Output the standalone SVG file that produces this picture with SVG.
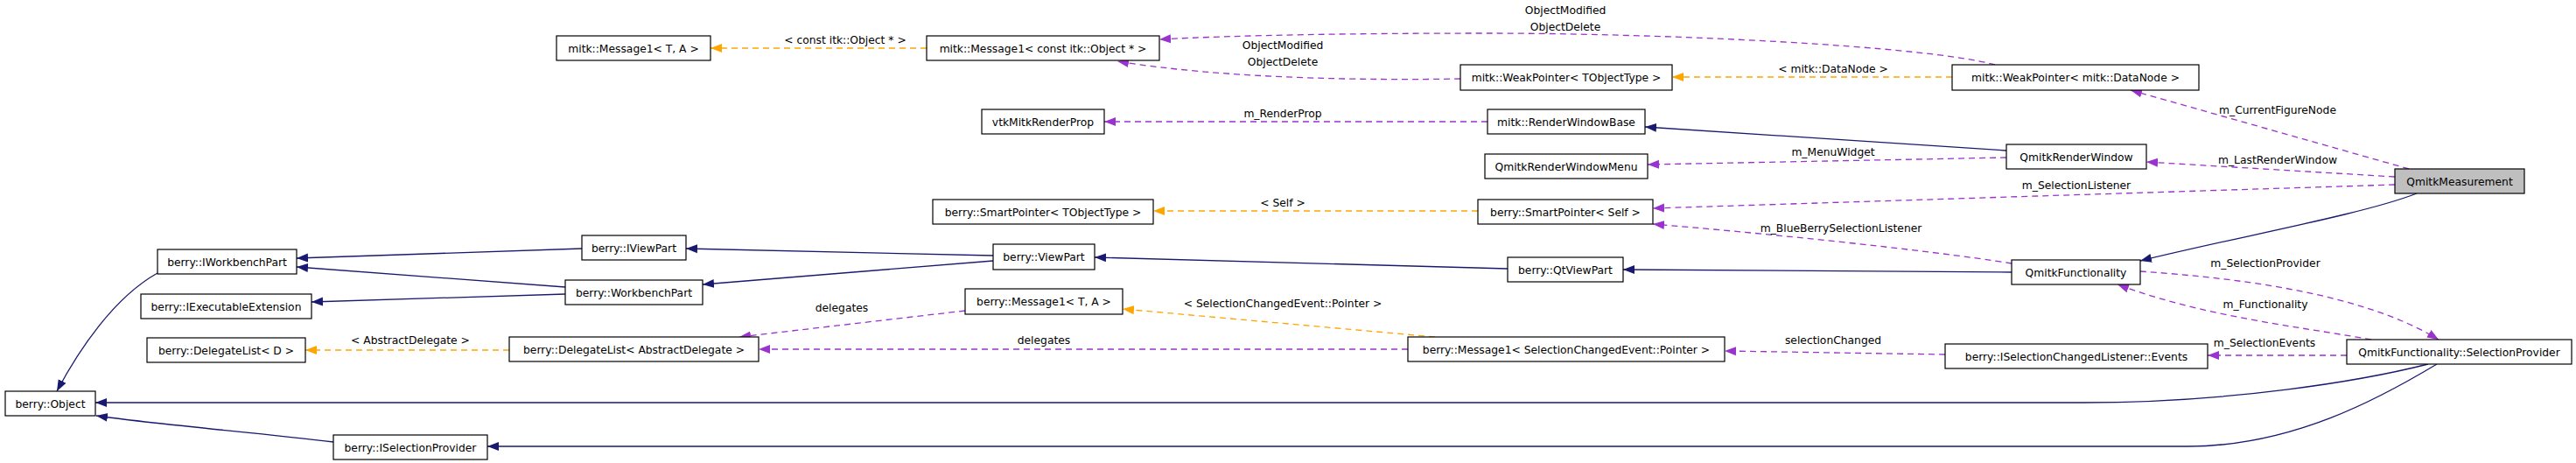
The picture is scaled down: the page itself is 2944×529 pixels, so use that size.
<svg xmlns="http://www.w3.org/2000/svg" width="2944" height="529" viewBox="0 0 2944 529">
<style>
.n rect{fill:#fff;stroke:#000;stroke-width:1.2}
.n text,.l{font-family:"DejaVu Sans",sans-serif;font-size:12.3px;fill:#000;text-anchor:middle}
.i{fill:none;stroke:#191970;stroke-width:1.3;marker-end:url(#ai)}
.u{fill:none;stroke:#9a32cd;stroke-width:1.3;stroke-dasharray:7,5;marker-end:url(#au)}
.t{fill:none;stroke:#ffa500;stroke-width:1.3;stroke-dasharray:7,5;marker-end:url(#at)}
</style>
<defs>
<marker id="ai" markerUnits="userSpaceOnUse" markerWidth="14" markerHeight="12" refX="13" refY="6" orient="auto"><path d="M0,1 L13,6 L0,11 z" fill="#191970"/></marker>
<marker id="au" markerUnits="userSpaceOnUse" markerWidth="14" markerHeight="12" refX="13" refY="6" orient="auto"><path d="M0,1 L13,6 L0,11 z" fill="#9a32cd"/></marker>
<marker id="at" markerUnits="userSpaceOnUse" markerWidth="14" markerHeight="12" refX="13" refY="6" orient="auto"><path d="M0,1 L13,6 L0,11 z" fill="#ffa500"/></marker>
</defs>
<rect width="2944" height="529" fill="#fff"/>
<g id="edges">
<path class="t" d="M1059,55 L812,55"/>
<path class="u" d="M1669,90 C1560,92 1400,90 1277,70"/>
<path class="u" d="M2280,74 C2200,52 1900,38 1700,38 C1550,38 1420,40 1325,45"/>
<path class="t" d="M2231,88 L1911,88"/>
<path class="u" d="M1700,139 L1262,139"/>
<path class="i" d="M2293,172 L1880,145"/>
<path class="u" d="M2293,180 L1883,188"/>
<path class="t" d="M1689,241 L1318,241"/>
<path class="u" d="M2753,193 L2435,103"/>
<path class="u" d="M2737,202 L2453,185"/>
<path class="u" d="M2737,211 L1889,238"/>
<path class="i" d="M2762,221 C2700,245 2560,270 2446,298"/>
<path class="u" d="M2299,301 C2200,285 2000,265 1889,256"/>
<path class="i" d="M2299,311 L1855,308"/>
<path class="i" d="M1723,307 L1251,294"/>
<path class="i" d="M1135,292 L784,284"/>
<path class="i" d="M1135,298 L803,325"/>
<path class="i" d="M665,284 L339,295"/>
<path class="i" d="M646,328 L339,305"/>
<path class="i" d="M646,336 L356,345"/>
<path class="i" d="M180,312 C130,340 90,400 65,447"/>
<path class="u" d="M1103,355 L845,385"/>
<path class="u" d="M1609,399 L867,399"/>
<path class="t" d="M1640,385 L1283,353"/>
<path class="t" d="M582,400 L349,400"/>
<path class="u" d="M2223,405 L1971,401"/>
<path class="u" d="M2682,406 L2523,406"/>
<path class="u" d="M2710,388 C2620,372 2520,362 2420,325"/>
<path class="u" d="M2446,310 C2560,318 2700,335 2787,388"/>
<path class="i" d="M2775,416 C2700,435 2550,460 2380,460 L109,460"/>
<path class="i" d="M2785,416 C2720,455 2620,510 2500,510 L557,510"/>
<path class="i" d="M381,505 C300,495 180,485 110,475"/>
<text class="l" x="966" y="50">&lt; const itk::Object * &gt;</text>
<text class="l" x="1466" y="56">ObjectModified</text>
<text class="l" x="1466" y="75">ObjectDelete</text>
<text class="l" x="1789" y="16">ObjectModified</text>
<text class="l" x="1789" y="35">ObjectDelete</text>
<text class="l" x="2095" y="83">&lt; mitk::DataNode &gt;</text>
<text class="l" x="1466" y="134">m_RenderProp</text>
<text class="l" x="2095" y="178">m_MenuWidget</text>
<text class="l" x="1466" y="236">&lt; Self &gt;</text>
<text class="l" x="2603" y="130">m_CurrentFigureNode</text>
<text class="l" x="2603" y="187">m_LastRenderWindow</text>
<text class="l" x="2373" y="216">m_SelectionListener</text>
<text class="l" x="2104" y="265">m_BlueBerrySelectionListener</text>
<text class="l" x="2589" y="305">m_SelectionProvider</text>
<text class="l" x="2589" y="352">m_Functionality</text>
<text class="l" x="2588" y="396">m_SelectionEvents</text>
<text class="l" x="2095" y="393">selectionChanged</text>
<text class="l" x="1466" y="351">&lt; SelectionChangedEvent::Pointer &gt;</text>
<text class="l" x="1193" y="393">delegates</text>
<text class="l" x="962" y="356">delegates</text>
<text class="l" x="469" y="393">&lt; AbstractDelegate &gt;</text>
</g>
<g id="n1" class="n"><rect x="636" y="41" width="176" height="28"/><text x="724" y="59.5">mitk::Message1&lt; T, A &gt;</text></g>
<g id="n2" class="n"><rect x="1059" y="41" width="266" height="28"/><text x="1192" y="59.5">mitk::Message1&lt; const itk::Object * &gt;</text></g>
<g id="n3" class="n"><rect x="1669" y="74" width="242" height="29"/><text x="1790" y="93">mitk::WeakPointer&lt; TObjectType &gt;</text></g>
<g id="n4" class="n"><rect x="1122" y="125" width="140" height="28"/><text x="1192" y="143.5">vtkMitkRenderProp</text></g>
<g id="n5" class="n"><rect x="1700" y="125" width="180" height="28"/><text x="1790" y="143.5">mitk::RenderWindowBase</text></g>
<g id="n6" class="n"><rect x="1697" y="176" width="186" height="28"/><text x="1790" y="194.5">QmitkRenderWindowMenu</text></g>
<g id="n7" class="n"><rect x="1066" y="228" width="252" height="28"/><text x="1192" y="246.5">berry::SmartPointer&lt; TObjectType &gt;</text></g>
<g id="n8" class="n"><rect x="1689" y="228" width="200" height="28"/><text x="1789" y="246.5">berry::SmartPointer&lt; Self &gt;</text></g>
<g id="n9" class="n"><rect x="2231" y="74" width="282" height="29"/><text x="2372" y="93">mitk::WeakPointer&lt; mitk::DataNode &gt;</text></g>
<g id="n10" class="n"><rect x="2293" y="165" width="160" height="28"/><text x="2373" y="183.5">QmitkRenderWindow</text></g>
<g id="n11" class="n"><rect x="2737" y="193" width="148" height="28" style="fill:#bfbfbf"/><text x="2811" y="211.5">QmitkMeasurement</text></g>
<g id="n12" class="n"><rect x="2299" y="297" width="147" height="28"/><text x="2372.5" y="315.5">QmitkFunctionality</text></g>
<g id="n13" class="n"><rect x="2682" y="388" width="257" height="28"/><text x="2810.5" y="406.5">QmitkFunctionality::SelectionProvider</text></g>
<g id="n14" class="n"><rect x="2223" y="393" width="300" height="28"/><text x="2373" y="411.5">berry::ISelectionChangedListener::Events</text></g>
<g id="n15" class="n"><rect x="1609" y="385" width="362" height="28"/><text x="1790" y="403.5">berry::Message1&lt; SelectionChangedEvent::Pointer &gt;</text></g>
<g id="n16" class="n"><rect x="1723" y="294" width="132" height="28"/><text x="1789" y="312.5">berry::QtViewPart</text></g>
<g id="n17" class="n"><rect x="1135" y="279" width="116" height="29"/><text x="1193" y="298">berry::ViewPart</text></g>
<g id="n18" class="n"><rect x="1103" y="330" width="180" height="29"/><text x="1193" y="349">berry::Message1&lt; T, A &gt;</text></g>
<g id="n19" class="n"><rect x="665" y="269" width="119" height="28"/><text x="724.5" y="287.5">berry::IViewPart</text></g>
<g id="n20" class="n"><rect x="646" y="320" width="157" height="28"/><text x="724.5" y="338.5">berry::WorkbenchPart</text></g>
<g id="n21" class="n"><rect x="582" y="385" width="285" height="28"/><text x="724.5" y="403.5">berry::DelegateList&lt; AbstractDelegate &gt;</text></g>
<g id="n22" class="n"><rect x="180" y="285" width="159" height="28"/><text x="259.5" y="303.5">berry::IWorkbenchPart</text></g>
<g id="n23" class="n"><rect x="161" y="336" width="195" height="28"/><text x="258.5" y="354.5">berry::IExecutableExtension</text></g>
<g id="n24" class="n"><rect x="168" y="386" width="181" height="28"/><text x="258.5" y="404.5">berry::DelegateList&lt; D &gt;</text></g>
<g id="n25" class="n"><rect x="6" y="447" width="103" height="28"/><text x="57.5" y="465.5">berry::Object</text></g>
<g id="n26" class="n"><rect x="381" y="497" width="176" height="28"/><text x="469" y="515.5">berry::ISelectionProvider</text></g>
</svg>
